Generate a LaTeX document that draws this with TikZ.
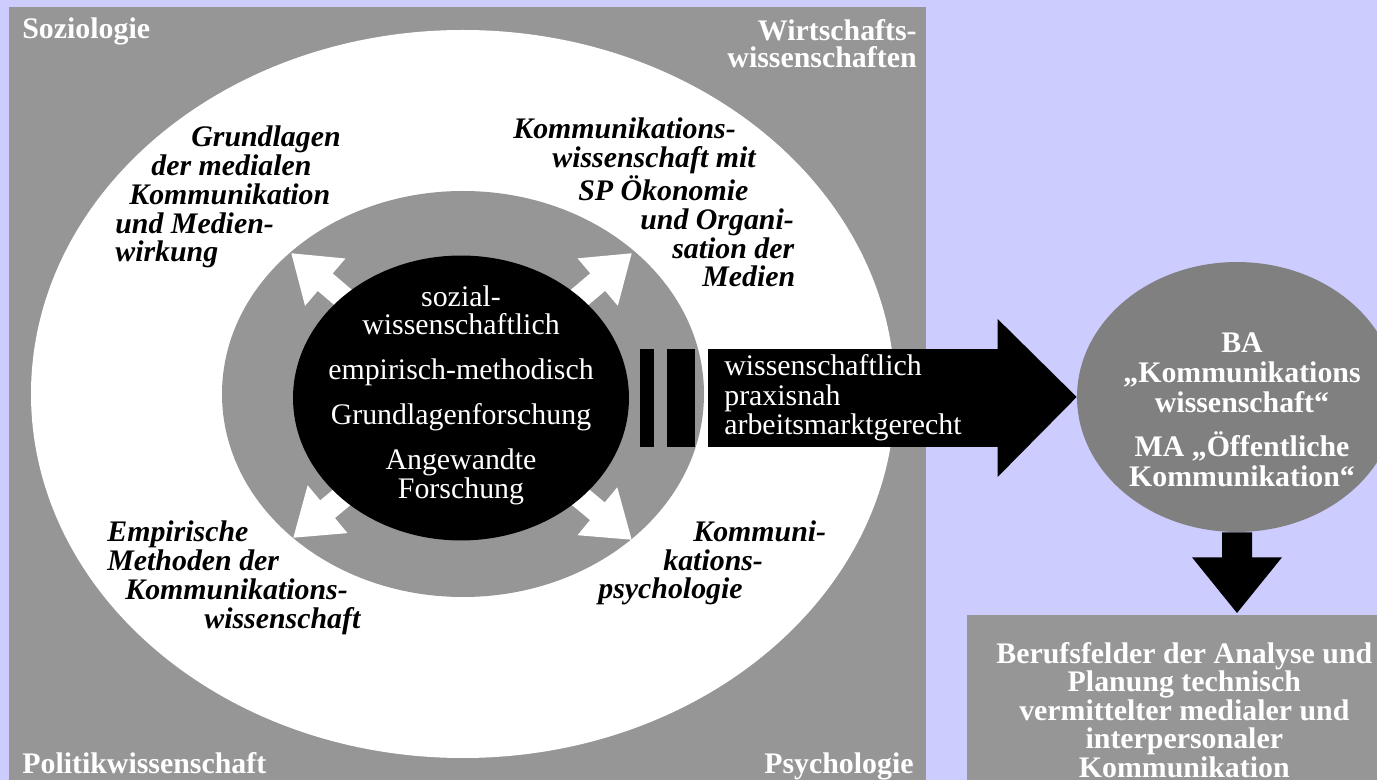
\documentclass[tikz,border=0pt]{standalone}
\usepackage{fontspec}
\setmainfont{Liberation Serif}
\usetikzlibrary{calc,positioning,arrows.meta,shapes.geometric}
\definecolor{lav}{HTML}{CCCCFF}
\definecolor{midgray}{HTML}{969696}
\definecolor{dkgray}{HTML}{808080}

\begin{document}
\begin{tikzpicture}[x=0.02cm,y=-0.02cm,
  corner/.style={text=white,font=\fontsize{17}{15.4}\selectfont\bfseries,inner sep=0pt},
  field/.style={font=\fontsize{17}{16.5}\selectfont\bfseries\itshape,align=left,inner sep=0pt,anchor=base west},
  spoke/.style={white,line width=0.46cm,-{Triangle[length=0.9cm,width=1.18cm]}}]
  \useasboundingbox (0,0) rectangle (1377,780);
  \clip (0,0) rectangle (1377,780);
  % hintergrund, quadrat, ringe
  \fill[lav] (0,0) rectangle (1377,780);
  \fill[midgray] (9,7) rectangle (926,790);
  \fill[white] (463,394) ellipse [x radius=432,y radius=364];
  \fill[midgray] (463,394) ellipse [x radius=241,y radius=203];

  % vier weisse pfeile, liegen unter dem kern
  \coordinate (c) at (461,398);
  \coordinate (tl) at (291,253);
  \coordinate (tr) at (632,253);
  \coordinate (bl) at (293,538);
  \coordinate (br) at (632,540);
  \foreach \t in {tl,tr,bl,br}
    \draw[spoke] (c) -- (\t);

  \node[ellipse,fill=black,minimum width=6.72cm,minimum height=5.7cm,inner sep=0pt] (core) at (c) {};
  \node[text=white,align=center,font=\fontsize{17}{16.2}\selectfont] (coretxt) at ($(core.center)+(0,-3)$)
    {sozial-\\wissenschaftlich\\[9.4pt]empirisch-methodisch\\[9.4pt]Grundlagenforschung\\[9.4pt]Angewandte\\Forschung};

  % balken + grosser pfeil nach rechts
  \fill (640,349) rectangle (654,447);
  \fill (667,349) rectangle (695,447);
  \node[fill=black,text=white,font=\fontsize{17}{16.8}\selectfont,text width=5.16cm,inner xsep=0.32cm,inner ysep=0pt,
        minimum height=1.96cm,align=left,anchor=west] (outbox) at (708,398)
    {wissenschaftlich\\praxisnah\\arbeitsmarktgerecht};
  \node[ellipse,fill=dkgray,minimum width=6.4cm,minimum height=5.4cm,inner sep=0pt] (degree) at (1237,397) {};
  \fill ($(outbox.east)+(-1,-79)$) -- (degree.west) -- ($(outbox.east)+(-1,79)$) -- cycle;
  \node[text=white,align=center,font=\fontsize{17}{17}\selectfont\bfseries] (degreetxt) at ($(degree.center)+(5,13)$)
    {BA\\„Kommunikations\\wissenschaft“\\[8pt]MA „Öffentliche\\Kommunikation“};

  % berufsfelder
  \node[fill=midgray,text=white,font=\fontsize{17}{16.2}\selectfont\bfseries,align=center,anchor=north west,
        minimum width=8.68cm,inner xsep=0pt,inner ysep=0.54cm] (berufe) at (967,615)
    {Berufsfelder der Analyse und\\Planung technisch\\vermittelter medialer und\\interpersonaler\\Kommunikation};
  \coordinate (dtip) at (degree.south |- berufe.north);
  \fill ($(degree.south)+(-15,0)$) -- ($(degree.south)+(-15,25)$) -- ($(degree.south)+(-45,25)$) -- ($(dtip)+(0,-2)$)
    -- ($(degree.south)+(45,25)$) -- ($(degree.south)+(15,25)$) -- ($(degree.south)+(15,0)$) -- cycle;

  % ecken (base = letzte zeile)
  \node[corner,anchor=base west] (sozio) at (22,39) {Soziologie};
  \node[corner,align=right,anchor=base east] (wiwi) at (917,68) {Wirtschafts-\\wissenschaften};
  \node[corner,anchor=base west] (powi) at (22,773) {Politikwissenschaft};
  \node[corner,anchor=base east] (psych) at (914,773) {Psychologie};

  % faecher im weissen ring
  \node[field] (grundl) at (115,262)
    {\hspace*{1.52cm}Grundlagen\\\hspace*{0.72cm}der medialen\\\hspace*{0.28cm}Kommunikation\\und Medien-\\wirkung};
  \node[field] (oekon) at (513,287)
    {Kommunikations-\\\hspace*{0.78cm}wissenschaft mit\\\hspace*{1.30cm}SP Ökonomie\\\hspace*{2.54cm}und Organi-\\\hspace*{3.18cm}sation der\\\hspace*{3.78cm}Medien};
  \node[field] (empir) at (107,628)
    {Empirische\\Methoden der\\\hspace*{0.36cm}Kommunikations-\\\hspace*{1.94cm}wissenschaft};
  \node[field] (kpsych) at (598,599)
    {\hspace*{1.90cm}Kommuni-\\\hspace*{1.30cm}kations-\\psychologie};
\end{tikzpicture}
\end{document}
